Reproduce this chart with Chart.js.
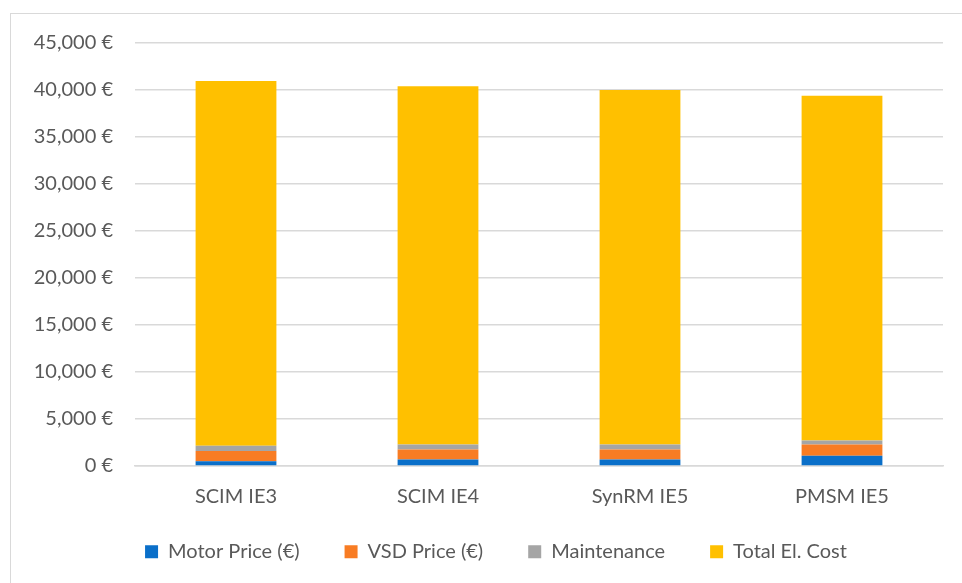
<!DOCTYPE html>
<html>
<head>
<meta charset="utf-8">
<script src="https://cdn.jsdelivr.net/npm/chart.js@4/dist/chart.umd.min.js"></script>
<style>
  html, body { margin: 0; padding: 0; background: #fff; overflow: hidden; }
  #frame { position: absolute; left: 10px; top: 13px; width: 1000px; height: 620px; border: 1px solid #d9d9d9; }
  #wrap { position: absolute; left: 0; top: 0; width: 962px; height: 583px; }
</style>
</head>
<body>
<div id="frame"></div>
<div id="wrap"><canvas id="c" width="962" height="583"></canvas></div>
<script>
const categories = ["SCIM IE3", "SCIM IE4", "SynRM IE5", "PMSM IE5"];
const motorPrice = [500, 700, 700, 1100];
const vsdPrice = [1100, 1050, 1050, 1200];
const maintenance = [550, 550, 550, 400];
const totalElCost = [38800, 38100, 37700, 36700];
const seriesNames = ["Motor Price (€)", "VSD Price (€)", "Maintenance", "Total El. Cost"];
const yTicks = [0, 5000, 10000, 15000, 20000, 25000, 30000, 35000, 40000, 45000];

const colors = ["#0A6FC9", "#F87C23", "#A5A5A5", "#FFC000"];
const FONT = "Lato, 'Open Sans', sans-serif";
const textColor = "#595959";

const series = [motorPrice, vsdPrice, maintenance, totalElCost];
const datasets = series.map((d, i) => ({
  label: seriesNames[i],
  data: d,
  backgroundColor: colors[i],
  borderWidth: 0,
  categoryPercentage: 1.0,
  barPercentage: 0.4
}));

const legendShift = {
  id: 'legendShift',
  afterLayout(chart) {
    const lg = chart.legend;
    if (!lg) return;
    const dx = 24.5, dy = -11.3;
    lg.left += dx; lg.right += dx;
    lg.top += dy; lg.bottom += dy;
  }
};

new Chart(document.getElementById('c'), {
  type: 'bar',
  data: { labels: categories, datasets },
  plugins: [legendShift],
  options: {
    responsive: false,
    animation: false,
    devicePixelRatio: 1,
    layout: { padding: { left: 0, right: 19, top: 43, bottom: 0 } },
    plugins: {
      tooltip: { enabled: false },
      legend: {
        position: 'bottom',
        labels: {
          color: textColor,
          font: { family: FONT, size: 20 },
          boxWidth: 13,
          boxHeight: 13,
          padding: 45
        }
      }
    },
    scales: {
      x: {
        stacked: true,
        grid: { display: false, drawTicks: false },
        border: { display: true, color: '#d9d9d9', width: 1.5 },
        ticks: { color: textColor, font: { family: FONT, size: 20 }, padding: 19 },
        afterFit: (s) => { s.height = 42; }
      },
      y: {
        stacked: true,
        min: 0,
        max: 45000,
        afterBuildTicks: (s) => { s.ticks = yTicks.map(v => ({ value: v })); },
        grid: { color: '#d9d9d9', lineWidth: 1.5, drawTicks: false },
        border: { display: false },
        ticks: {
          color: textColor,
          font: { family: FONT, size: 20 },
          padding: 22,
          callback: (v) => v.toLocaleString('en-US') + ' €'
        },
        afterFit: (s) => { s.width = 135; }
      }
    }
  }
});
</script>
</body>
</html>
